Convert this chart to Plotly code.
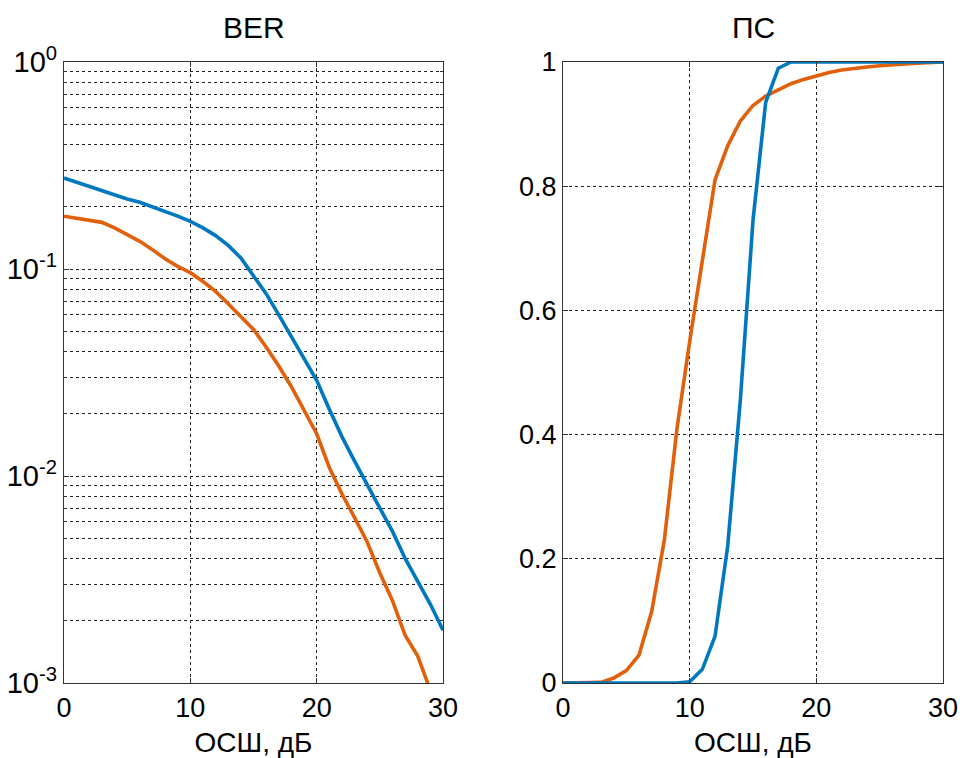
import plotly.graph_objects as go

snr_db = list(range(0, 31))

ber_blue = [0.275, 0.262, 0.250, 0.238, 0.227, 0.218, 0.210, 0.200, 0.190, 0.180,
            0.170, 0.158, 0.145, 0.130, 0.113, 0.093, 0.076, 0.060, 0.047, 0.037,
            0.029, 0.021, 0.0155, 0.0118, 0.0090, 0.0070, 0.0054, 0.0040, 0.0031,
            0.0024, 0.0018]
ber_orange = [0.180, 0.176, 0.172, 0.168, 0.158, 0.147, 0.136, 0.124, 0.112, 0.103,
              0.096, 0.087, 0.078, 0.068, 0.059, 0.051, 0.042, 0.034, 0.027, 0.021,
              0.0160, 0.0110, 0.0082, 0.0063, 0.0048, 0.0034, 0.0025, 0.0017,
              0.00135, 0.00092, 0.0006]

ps_blue = [0, 0, 0, 0, 0, 0, 0, 0, 0, 0,
           0.002, 0.022, 0.075, 0.22, 0.455, 0.745, 0.935, 0.99, 1.0, 1.0,
           1.0, 1.0, 1.0, 1.0, 1.0, 1.0, 1.0, 1.0, 1.0, 1.0, 1.0]
ps_orange = [0, 0, 0, 0.001, 0.008, 0.02, 0.045, 0.115, 0.23, 0.41,
             0.55, 0.68, 0.81, 0.865, 0.905, 0.93, 0.945, 0.955, 0.965, 0.972,
             0.978, 0.983, 0.987, 0.99, 0.992, 0.994, 0.996, 0.997, 0.998, 0.999, 1.0]

x_ticks = [0, 10, 20, 30]
ber_tickvals = [1e-3, 1e-2, 1e-1, 1]
ber_ticktext = ["10<sup>-3</sup>", "10<sup>-2</sup>", "10<sup>-1</sup>", "10<sup>0</sup>"]
ps_tickvals = [0, 0.2, 0.4, 0.6, 0.8, 1]
ps_ticktext = ["0", "0.2", "0.4", "0.6", "0.8", "1"]

titles = ["BER", "ПС"]
x_label = "ОСШ, дБ"

BLUE = "#0078C0"
ORANGE = "#E0600C"
FONT = "Liberation Sans, Arial, sans-serif"

fig = go.Figure()
fig.add_trace(go.Scatter(x=snr_db, y=ber_orange, mode="lines",
                         line=dict(color=ORANGE, width=3.6), xaxis="x", yaxis="y"))
fig.add_trace(go.Scatter(x=snr_db, y=ber_blue, mode="lines",
                         line=dict(color=BLUE, width=3.6), xaxis="x", yaxis="y"))
fig.add_trace(go.Scatter(x=snr_db, y=ps_orange, mode="lines",
                         line=dict(color=ORANGE, width=3.6), xaxis="x2", yaxis="y2"))
fig.add_trace(go.Scatter(x=snr_db, y=ps_blue, mode="lines",
                         line=dict(color=BLUE, width=3.6), xaxis="x2", yaxis="y2"))

W, H = 960, 758
d1 = [64 / W, 443 / W]
d2 = [563 / W, 943 / W]
dy = [75 / H, 696 / H]

grid = dict(showgrid=True, gridcolor="#222222", gridwidth=1, griddash="3px,3px")
axis_common = dict(showline=True, linecolor="#333333", linewidth=1.3, mirror="ticks",
                   ticks="inside", ticklen=5, tickcolor="#333333", zeroline=False,
                   automargin=False, **grid)
tick_font = dict(family=FONT, size=27, color="black")
label_font = dict(family=FONT, size=28, color="black")

fig.update_layout(
    template="none",
    width=W, height=H,
    margin=dict(l=0, r=0, t=0, b=0),
    paper_bgcolor="white", plot_bgcolor="white",
    showlegend=False,
    font=dict(family=FONT, color="black"),
    xaxis=dict(domain=d1, range=[0, 30], tickvals=x_ticks, anchor="y",
               tickfont=tick_font,
               title=dict(text=x_label, font=label_font, standoff=10),
               **axis_common),
    yaxis=dict(domain=dy, type="log", range=[-3, 0], tickvals=ber_tickvals,
               ticktext=ber_ticktext, anchor="x",
               tickfont=dict(family=FONT, size=29, color="black"),
               minor=dict(dtick="D1", showgrid=True, gridcolor="#222222",
                          griddash="3px,3px", gridwidth=1, ticks="inside",
                          ticklen=3, tickcolor="#333333"),
               **axis_common),
    xaxis2=dict(domain=d2, range=[0, 30], tickvals=x_ticks, anchor="y2",
                tickfont=tick_font,
                title=dict(text=x_label, font=label_font, standoff=10),
                **axis_common),
    yaxis2=dict(domain=dy, range=[0, 1], tickvals=ps_tickvals, ticktext=ps_ticktext,
                anchor="x2", tickfont=tick_font, **axis_common),
)

for title, dom in zip(titles, [d1, d2]):
    fig.add_annotation(text=title, xref="paper", yref="paper",
                       x=(dom[0] + dom[1]) / 2, y=(H - 27) / H,
                       xanchor="center", yanchor="middle", showarrow=False,
                       font=dict(family=FONT, size=30, color="black"))

fig.write_html("out.html")
